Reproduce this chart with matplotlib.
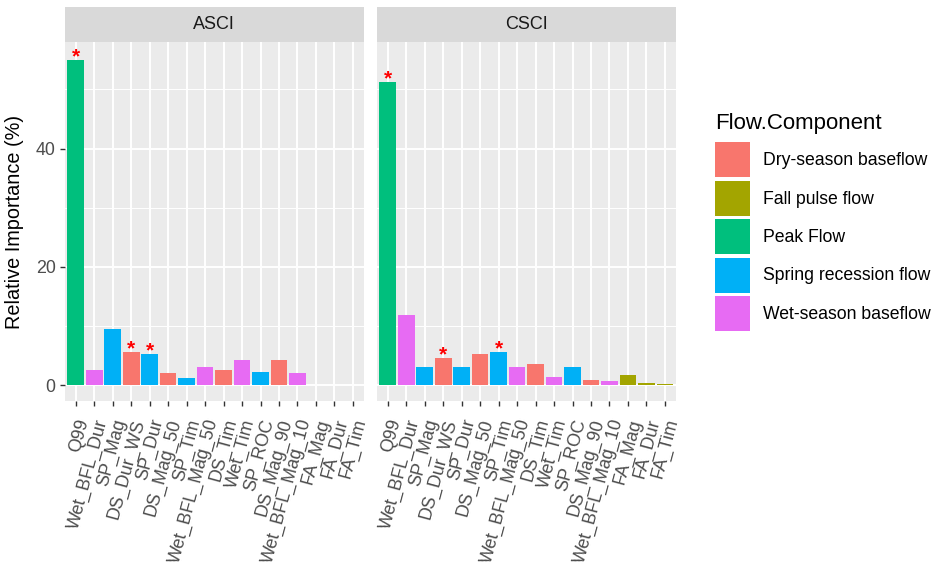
import matplotlib
matplotlib.use("Agg")
import matplotlib.pyplot as plt
from matplotlib.patches import Patch
from matplotlib.ticker import FixedLocator

plt.rcParams['font.family'] = ['Liberation Sans', 'DejaVu Sans']

categories = ["Q99", "Wet_BFL_Dur", "SP_Mag", "DS_Dur_WS", "SP_Dur", "DS_Mag_50",
              "SP_Tim", "Wet_BFL_Mag_50", "DS_Tim", "Wet_Tim", "SP_ROC", "DS_Mag_90",
              "Wet_BFL_Mag_10", "FA_Mag", "FA_Dur", "FA_Tim"]
component_of = ["Peak Flow", "Wet-season baseflow", "Spring recession flow",
                "Dry-season baseflow", "Spring recession flow", "Dry-season baseflow",
                "Spring recession flow", "Wet-season baseflow", "Dry-season baseflow",
                "Wet-season baseflow", "Spring recession flow", "Dry-season baseflow",
                "Wet-season baseflow", "Fall pulse flow", "Fall pulse flow", "Fall pulse flow"]
asci_values = [54.9, 2.65, 9.5, 5.6, 5.3, 2.1, 1.25, 3.1, 2.65, 4.2, 2.2, 4.2, 2.1, 0.1, 0.0, 0.0]
csci_values = [51.3, 11.9, 3.1, 4.6, 3.1, 5.35, 5.6, 3.1, 3.6, 1.4, 3.1, 0.9, 0.67, 1.75, 0.4, 0.3]
asci_signif = ["Q99", "DS_Dur_WS", "SP_Dur"]
csci_signif = ["Q99", "DS_Dur_WS", "SP_Tim"]

components = ["Dry-season baseflow", "Fall pulse flow", "Peak Flow",
              "Spring recession flow", "Wet-season baseflow"]
comp_colors = ["#F8766D", "#A3A500", "#00BF7D", "#00B0F6", "#E76BF3"]
color_map = dict(zip(components, comp_colors))

panels = [("ASCI", asci_values, asci_signif), ("CSCI", csci_values, csci_signif)]

W, H = 941, 565
fig = plt.figure(figsize=(W / 100, H / 100), dpi=100)

def fx(px):
    return px / W

def fy(py):
    return 1 - py / H

panel_lefts = [64.7, 376.7]
panel_w = 299.3
top_px, bot_px, strip_top = 42, 401, 7

x = list(range(len(categories)))
for (title, vals, sig), left in zip(panels, panel_lefts):
    ax = fig.add_axes([fx(left), fy(bot_px), fx(panel_w), (bot_px - top_px) / H])
    ax.set_facecolor("#EBEBEB")
    cols = [color_map[c] for c in component_of]
    ax.bar(x, vals, width=0.9, color=cols, zorder=3)
    for name in sig:
        i = categories.index(name)
        ax.annotate("*", (i, vals[i]), xytext=(0, -4.6), textcoords="offset points",
                    ha="center", va="bottom", color="red", fontsize=15,
                    fontweight="bold", zorder=4)
    ax.set_xlim(-0.6, len(categories) - 0.4)
    ax.set_ylim(-2.65, 58.0)
    ax.yaxis.set_major_locator(FixedLocator([0, 20, 40]))
    ax.yaxis.set_minor_locator(FixedLocator([10, 30, 50]))
    ax.set_xticks(x)
    ax.set_xticklabels(categories, rotation=75, ha="right", va="top",
                       rotation_mode="anchor", fontsize=12.9, color="#4D4D4D")
    ax.grid(which="major", color="white", linewidth=1.4, zorder=1)
    ax.grid(which="minor", axis="y", color="white", linewidth=0.7, zorder=1)
    ax.tick_params(axis="both", which="major", length=3.5, width=1.0, color="#333333",
                   labelsize=12.9, labelcolor="#4D4D4D")
    ax.tick_params(axis="x", which="major", pad=8)
    ax.tick_params(axis="y", which="major", pad=3)
    ax.tick_params(axis="both", which="minor", length=0)
    for s in ax.spines.values():
        s.set_visible(False)
    if left != panel_lefts[0]:
        ax.tick_params(axis="y", which="both", length=0, labelleft=False)
    # facet strip
    sax = fig.add_axes([fx(left), fy(top_px), fx(panel_w), (top_px - strip_top) / H])
    sax.set_facecolor("#D9D9D9")
    sax.set_xticks([])
    sax.set_yticks([])
    for s in sax.spines.values():
        s.set_visible(False)
    sax.text(0.5, 0.5, title, ha="center", va="center", fontsize=13,
             color="#1A1A1A", transform=sax.transAxes)

fig.text(fx(15), fy(221.5), "Relative Importance (%)", rotation=90,
         ha="center", va="center", fontsize=14.3, color="black")

handles = [Patch(facecolor=c, edgecolor="none") for c in comp_colors]
leg = fig.legend(handles, components, title="Flow.Component",
                 loc="upper left", bbox_to_anchor=(fx(715), fy(113)),
                 frameon=False, fontsize=12.7, title_fontsize=16,
                 handlelength=1.99, handleheight=2.68, labelspacing=0.19,
                 handletextpad=0.74, borderaxespad=0, borderpad=0)
leg._legend_box.align = "left"
leg._legend_box.sep = 6

fig.savefig("out.png", dpi=100)
